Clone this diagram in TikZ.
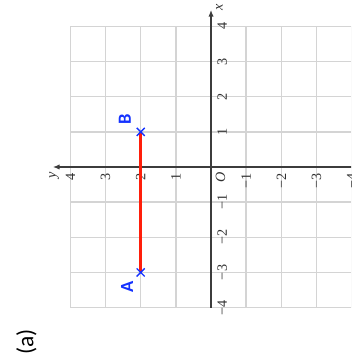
\documentclass[tikz,border=0pt]{standalone}
\usepackage{fontspec}
\setmainfont{Liberation Serif}
\newfontfamily\labfont{Carlito}
\usetikzlibrary{arrows.meta,shapes.misc}
\definecolor{gridgray}{HTML}{D4D4D4}
\definecolor{axisgray}{HTML}{3C3C3C}
\definecolor{ptblue}{HTML}{1432FF}
\definecolor{segred}{HTML}{FF1E0A}
\definecolor{ticktext}{HTML}{303030}
\tikzset{
  gridline/.style={draw=gridgray, line width=1.1pt},
  axisline/.style={draw=axisgray, line width=1.1pt, -{Latex[length=1.9mm,width=1.5mm]}},
  ticklab/.style={text=ticktext, inner sep=0pt, font=\fontsize{11.5}{13}\selectfont},
  ptmark/.style={cross out, draw=ptblue, line width=1.1pt, minimum size=0.19cm, inner sep=0pt},
  ptlabel/.style={text=ptblue, inner sep=0pt, font=\labfont\bfseries\fontsize{15}{17}\selectfont},
  segment/.style={draw=segred, line width=2.5pt},
  caption/.style={inner sep=0pt, font=\labfont\fontsize{19}{22}\selectfont}
}
\begin{document}
\begin{tikzpicture}
\useasboundingbox (-6.003,-5.576) rectangle (3.983,4.751);
\clip (-6.003,-5.576) rectangle (3.983,4.751);
\begin{scope}[rotate=90, transform shape]
  % grid
  \draw[gridline] (-4,-4) grid (4,4);
  % axes
  \coordinate (xs) at (-4,0);
  \coordinate (xe) at (4.47,0);
  \coordinate (ys) at (0,-4.2);
  \coordinate (ye) at (0,4.5);
  \draw[axisline] (xs) -- (xe);
  \draw[axisline] (ys) -- (ye);
  \node[ticklab, anchor=north] (xlab) at (4.53,-0.14) {\itshape x};
  \node[ticklab, anchor=east] (ylab) at (-0.15,4.46) {\itshape y};
  \node[ticklab, anchor=north east] (olab) at (-0.13,-0.13) {\itshape O};
  % tick labels on x axis
  \foreach \i/\t in {1/1,2/2,3/3,4/4,-1/−1,-2/−2,-3/−3,-4/−4}
    \node[ticklab, anchor=north] (xt\i) at (\i,-0.18) {\t};
  % tick labels on y axis
  \foreach \j/\t in {1/1,2/2,3/3,4/4,-1/−1,-2/−2,-3/−3,-4/−4}
    \node[ticklab, anchor=east] (yt\j) at (-0.18,\j) {\t};
  % points
  \coordinate (A) at (-3,2);
  \coordinate (B) at (1,2);
  \draw[segment] (A) -- (B);
  \node[ptmark] (Am) at (A) {};
  \node[ptmark] (Bm) at (B) {};
  \node[ptlabel] (Al) at (-3.41,2.39) {A};
  \node[ptlabel] (Bl) at (1.37,2.45) {B};
\end{scope}
\node[caption, rotate=90] (cap) at (-5.25,-4.98) {(a)};
\end{tikzpicture}
\end{document}
